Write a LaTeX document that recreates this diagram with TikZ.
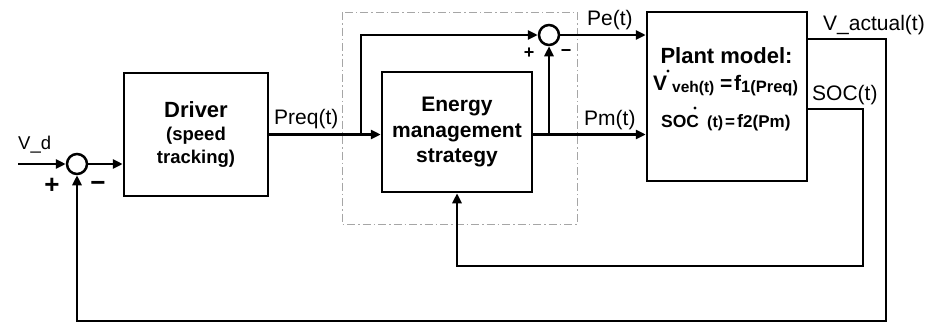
\documentclass[tikz,border=0pt]{standalone}
\usepackage{fontspec}
\setmainfont{Liberation Sans}
\usetikzlibrary{arrows.meta}
\begin{document}
\begin{tikzpicture}[x=1pt,y=-1pt,
  blk/.style={draw, line width=2.5pt, rectangle, inner sep=0pt, align=center},
  con/.style={line width=2.5pt},
  arr/.style={con, -{Triangle[length=10pt,width=9pt]}},
  sumc/.style={draw, circle, line width=2.5pt, minimum size=20pt, inner sep=0pt},
  lbl/.style={font=\fontsize{21}{23}\selectfont, inner sep=0pt},
  sgn/.style={font=\bfseries\fontsize{26}{26}\selectfont, inner sep=0pt},
  ssgn/.style={font=\bfseries\fontsize{18}{18}\selectfont, inner sep=0pt},
  eqt/.style={inner sep=0pt, anchor=base west},
  frame/.style={draw=gray!70, line width=1pt, dash pattern=on 8pt off 3pt on 1.5pt off 3pt}]
\useasboundingbox (0,0) rectangle (929,324);

% dashed frame
\draw[frame] (342,12) rectangle (577,224);

% blocks
\node[blk, minimum width=144pt, minimum height=123pt, font=\bfseries\fontsize{18.5}{23}\selectfont] (drv) at (196,134.5)
  {{\fontsize{22}{23}\selectfont Driver}\\(speed\\tracking)};
\node[blk, minimum width=150pt, minimum height=120pt, font=\bfseries\fontsize{21}{25.5}\selectfont] (ems) at (457,132)
  {Energy\\management\\strategy};
\node[blk, minimum width=160pt, minimum height=169pt] (plant) at (727,96.5) {};

% plant text
\node[inner sep=0pt, font=\bfseries\fontsize{22}{24}\selectfont] (ptitle) at (726.5,56) {Plant model:};
\node[eqt, font=\bfseries\fontsize{21}{21}\selectfont] (e1v) at (653,90) {V};
\fill (668,71) circle (1.7pt);
\node[eqt, font=\bfseries\fontsize{15.5}{16}\selectfont] (e1veh) at (672,92) {veh(t)};
\node[eqt, font=\bfseries\fontsize{21}{21}\selectfont] (e1eq) at (720,90) {=};
\node[eqt, font=\bfseries\fontsize{21}{21}\selectfont] (e1f) at (734,90) {f};
\node[eqt, font=\bfseries\fontsize{16.5}{17}\selectfont] (e1arg) at (741,92) {1(Preq)};
\node[eqt, font=\bfseries\fontsize{17.5}{17}\selectfont] (e2soc) at (661,127) {SOC};
\fill (695,108) circle (1.7pt);
\node[eqt, font=\bfseries\fontsize{16}{16}\selectfont] (e2t) at (707,127) {(t)};
\node[eqt, font=\bfseries\fontsize{17}{17}\selectfont] (e2eq) at (725,127) {=};
\node[eqt, font=\bfseries\fontsize{18}{18}\selectfont] (e2f) at (737,127) {f};
\node[eqt, font=\bfseries\fontsize{17}{17}\selectfont] (e2arg) at (743,127) {2(Pm)};

% summing junctions
\node[sumc] (s1) at (77,164) {};
\node[sumc] (s2) at (549,35) {};

% coordinates
\coordinate (vdin) at (18,164);
\coordinate (br1) at (361,134.5);
\coordinate (br2) at (549,134.5);
\coordinate (vr) at (886,39);
\coordinate (vb) at (886,321);
\coordinate (sr) at (863,109);
\coordinate (sb) at (863,266);

% connectors
\draw[arr] (vdin) -- (s1.west);
\draw[arr] (s1.east) -- (s1.east -| drv.west);
\draw[arr] (drv.east) -- (drv.east -| ems.west);
\draw[arr] (br1) |- (s2.west);
\draw[arr] (ems.east |- br1) -- (plant.west |- br1);
\draw[arr] (br2) -- (s2.south);
\draw[arr] (s2.east) -- (s2.east -| plant.west);
\draw[arr] (plant.east |- vr) -- (vr) -- (vb) -- (s1.south |- vb) -- (s1.south);
\draw[arr] (plant.east |- sr) -- (sr) -- (sb) -- (ems.south |- sb) -- (ems.south);

% labels
\node[lbl, anchor=west, font=\fontsize{18.5}{20}\selectfont] (lvd) at (18,145) {V\_d};
\node[lbl, anchor=west] (lpreq) at (274,119) {Preq(t)};
\node[lbl, anchor=west] (lpe) at (587,20) {Pe(t)};
\node[lbl, anchor=west] (lpm) at (584,120) {Pm(t)};
\node[lbl, anchor=west] (lva) at (823,25) {V\_actual(t)};
\node[lbl, anchor=west] (lsoc) at (812,95) {SOC(t)};

% signs
\node[sgn] (p1) at (52,186) {+};
\node[sgn] (m1) at (98,186) {\symbol{"2212}};
\node[ssgn] (p2) at (529,53) {+};
\node[ssgn] (m2) at (566,53) {\symbol{"2212}};
\end{tikzpicture}
\end{document}
